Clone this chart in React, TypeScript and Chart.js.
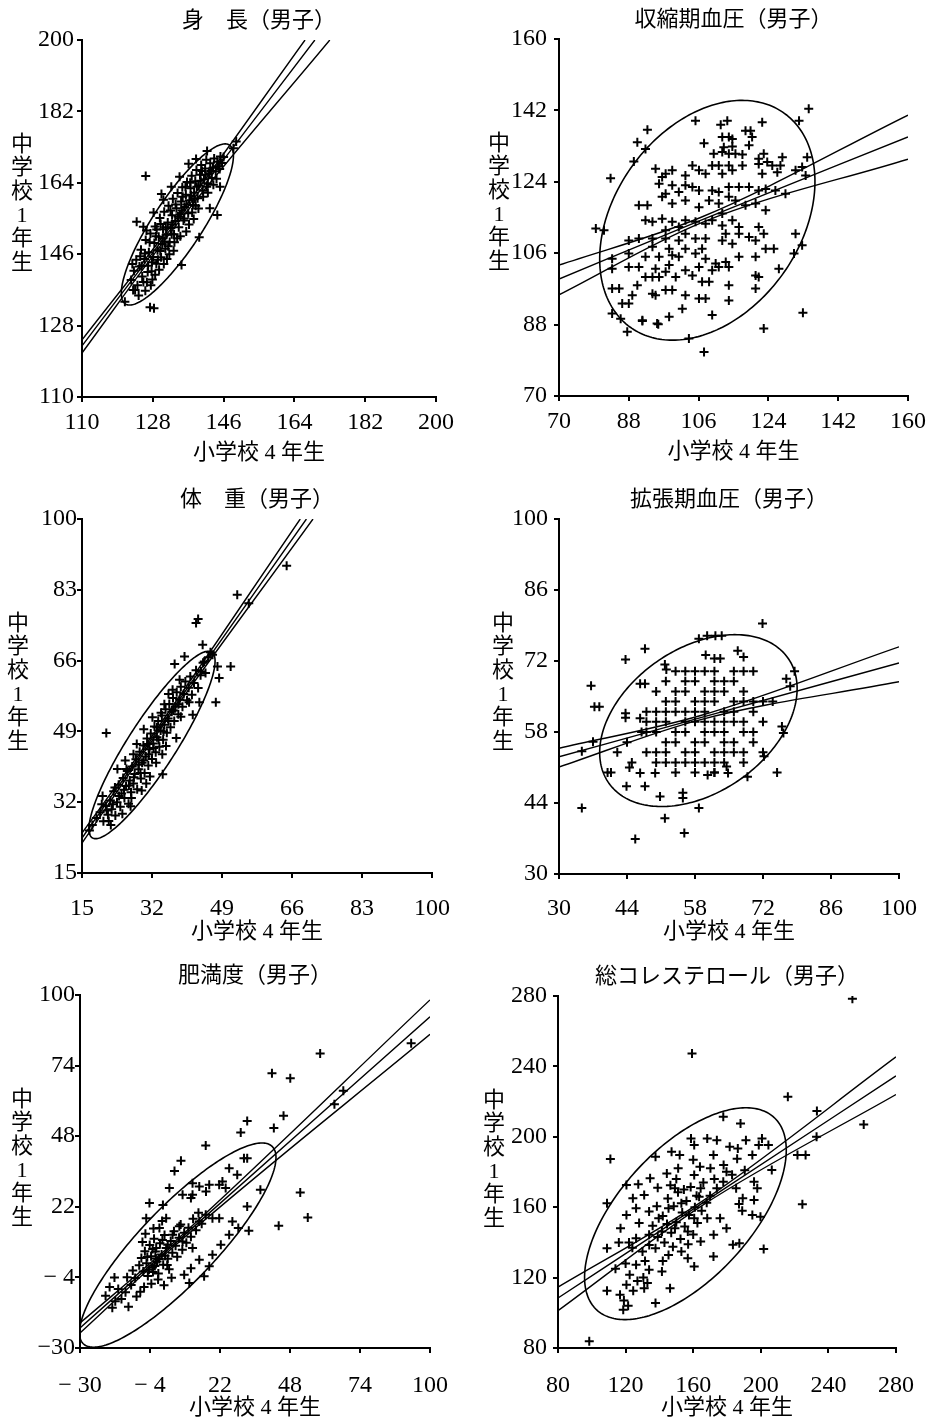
import React, { useEffect, useRef } from "react";
import { Chart, registerables } from "chart.js";
Chart.register(...registerables);

type P = [number, number];

// ---------- shared text ----------
const xAxisLabel = "小学校 4 年生";
const yAxisLabel = "中学校1年生";

// ---------- 身長 ----------
const heightTitle = "身　長（男子）";
const heightTicks = [110, 128, 146, 164, 182, 200];
const heightTickLabels = ["110", "128", "146", "164", "182", "200"];
const heightEllipse = [134.25, 153.5, 24, 6.3, 56.5]; // cx, cy, semi-major, semi-minor, angle(deg)
const heightBandUpper: P[] = [[110, 124.4], [134, 155.0], [166.7, 200]];
const heightBandMid: P[] = [[110, 122.9], [134, 154.2], [169.2, 200]];
const heightBandLower: P[] = [[110, 121.1], [134, 153.4], [173, 200]];
const heightPoints: P[] = [
  [126.2, 165.7], [123.9, 154.2], [125.6, 152.9], [120.9, 134.0], [123.0, 137.0], [127.3, 132.6], [128.3, 132.4],
  [135.3, 143.3], [139.8, 150.3], [144.4, 155.9], [149.2, 174.4], [148.5, 172.7], [130.7, 159.7], [145.1, 163.0], [142.5, 157.6],
  [122.5, 139.5], [123.2, 141.8], [123.8, 144.6], [124.1, 138.2], [124.6, 142.9], [125.0, 147.1], [125.3, 140.4], [125.9, 144.8],
  [126.2, 149.6], [126.5, 138.9], [126.8, 143.1], [127.0, 146.5], [127.4, 151.2], [127.7, 141.7], [128.1, 145.3], [128.4, 148.8],
  [128.6, 153.0], [128.9, 143.6], [129.2, 147.0], [129.5, 150.4], [129.8, 155.1], [130.1, 145.2], [130.4, 148.6], [130.6, 152.3],
  [130.9, 156.7], [131.2, 147.4], [131.5, 150.9], [131.8, 154.0], [132.0, 158.2], [132.3, 149.1], [132.6, 152.6], [132.9, 155.8],
  [133.1, 160.0], [133.4, 151.0], [133.7, 154.4], [134.0, 157.6], [134.3, 161.4], [134.6, 152.8], [134.9, 156.1], [135.2, 159.3],
  [135.5, 162.9], [135.8, 154.5], [136.1, 157.9], [136.4, 161.0], [136.7, 164.2], [137.0, 156.3], [137.3, 159.6], [137.6, 162.6],
  [137.9, 165.8], [138.2, 158.4], [138.5, 161.5], [138.8, 164.4], [139.1, 167.2], [139.4, 160.1], [139.7, 163.3], [140.0, 166.0],
  [140.3, 168.5], [140.7, 162.0], [141.0, 164.9], [141.3, 167.6], [141.6, 169.8], [142.0, 163.8], [142.3, 166.4], [142.6, 168.9],
  [143.0, 165.2], [143.3, 167.8], [143.6, 170.1], [144.0, 166.9], [144.4, 169.3], [144.8, 168.2], [145.2, 170.6], [145.6, 169.0],
  [127.9, 139.6], [126.1, 136.8], [129.6, 142.1], [131.6, 144.8], [124.4, 135.6], [133.3, 146.9], [136.5, 151.7], [138.4, 154.9],
  [139.0, 170.0], [137.1, 168.8], [134.8, 165.5], [132.7, 163.0], [130.2, 161.2], [141.8, 172.0],
  [124.8, 145.5], [125.6, 139.0], [126.7, 141.5], [127.2, 149.0], [127.8, 144.0], [128.6, 140.8], [129.0, 152.2], [129.9, 146.8],
  [130.5, 150.0], [130.8, 143.5], [131.3, 152.8], [131.9, 148.0], [132.5, 157.0], [132.8, 151.0], [133.5, 149.0], [133.8, 158.5],
  [134.4, 155.5], [135.0, 150.5], [135.6, 160.5], [136.0, 155.0], [136.6, 158.5], [137.2, 153.5], [137.5, 164.0], [138.0, 156.5],
  [138.6, 160.0], [139.2, 163.0], [139.6, 157.5], [140.2, 164.5], [140.8, 160.5], [141.4, 166.0], [142.0, 161.5], [142.8, 167.0],
  [143.4, 163.5], [144.2, 165.0], [145.0, 167.5], [146.0, 170.5], [123.5, 137.0], [122.8, 143.5], [126.4, 152.0], [128.2, 156.5],
  [125.2, 143.0], [126.0, 146.2], [127.5, 138.2], [128.8, 150.5], [129.3, 144.6], [130.0, 153.6], [131.0, 149.2], [132.2, 146.0],
  [133.0, 153.5], [134.2, 150.0], [135.4, 157.0], [136.3, 163.0], [137.7, 160.8], [138.9, 158.2], [140.5, 167.0], [141.7, 163.0],
];

// ---------- 収縮期血圧 ----------
const systolicTitle = "収縮期血圧（男子）";
const systolicTicks = [70, 88, 106, 124, 142, 160];
const systolicTickLabels = ["70", "88", "106", "124", "142", "160"];
const systolicEllipse = [108.25, 114.3, 33.5, 23.7, 52.4];
const systolicBandUpper: P[] = [[70, 103.0], [106.5, 115.0], [160, 140.8]];
const systolicBandMid: P[] = [[70, 99.5], [106.5, 114.3], [160, 135.3]];
const systolicBandLower: P[] = [[70, 95.5], [106.5, 113.6], [160, 129.7]];
const systolicPoints: P[] = [
  [134.4, 142.4], [131.9, 139.4], [122.4, 139.0], [105.2, 139.4], [113.4, 139.4], [111.7, 138.4], [92.8, 137.1], [90.2, 134.0],
  [92.3, 132.3], [89.3, 129.1], [83.3, 124.9], [79.5, 112.2], [81.6, 111.8], [122.8, 87.0], [132.9, 91.0], [107.4, 81.1],
  [103.5, 84.5], [87.6, 86.2], [91.5, 88.9], [95.6, 88.1], [132.7, 108.0], [131.0, 110.9], [130.6, 105.9], [126.7, 102.1],
  [112.1, 135.3], [113.8, 135.3], [114.7, 134.8], [118.1, 136.9], [119.4, 136.9], [119.8, 135.3], [107.4, 133.7], [112.5, 132.7],
  [114.7, 132.9], [109.9, 131.1], [112.1, 131.5], [113.8, 131.1], [115.5, 131.1], [117.3, 130.9], [119.0, 133.2], [121.5, 129.8],
  [122.8, 131.1], [123.7, 129.0], [127.6, 130.2], [134.0, 130.2], [104.4, 128.1], [109.5, 128.1], [111.2, 128.1], [113.8, 128.1],
  [117.3, 128.1], [121.5, 128.5], [125.0, 128.1], [127.1, 128.1], [132.7, 127.7], [94.9, 127.3], [96.6, 125.2], [97.5, 126.0],
  [99.2, 126.9], [102.6, 125.6], [106.1, 126.9], [107.8, 126.0], [112.1, 126.0], [114.7, 126.9], [122.4, 126.0], [126.3, 126.4],
  [131.0, 126.9], [133.6, 125.6], [95.8, 123.5], [99.2, 123.1], [102.6, 123.1], [104.4, 122.7], [106.1, 121.8], [109.5, 121.8],
  [111.2, 121.4], [113.8, 122.7], [116.4, 122.7], [119.0, 122.7], [121.5, 121.8], [123.3, 122.2], [125.8, 121.8], [128.4, 121.0],
  [97.5, 121.0], [100.9, 121.4], [96.6, 120.2], [99.2, 118.5], [102.6, 119.3], [106.1, 117.6], [108.7, 119.3], [111.2, 118.5],
  [113.8, 120.2], [115.5, 119.3], [118.1, 118.1], [120.7, 118.5], [123.3, 116.8], [90.6, 118.1], [92.8, 118.1], [112.1, 116.0],
  [92.3, 114.3], [94.1, 113.9], [96.6, 114.7], [99.2, 113.9], [100.9, 112.6], [102.6, 114.3], [105.2, 113.9], [107.8, 113.4],
  [109.5, 114.3], [112.1, 113.0], [114.7, 114.3], [116.4, 112.6], [119.0, 110.1], [121.5, 112.6], [122.8, 110.9], [97.5, 111.8],
  [102.6, 110.9], [113.0, 110.9], [116.4, 110.9], [88.0, 109.2], [90.6, 109.7], [94.1, 109.7], [97.5, 109.7], [100.9, 109.2],
  [105.2, 109.7], [107.8, 109.7], [112.1, 109.2], [114.7, 108.4], [120.7, 109.2], [123.3, 107.1], [125.4, 107.1], [94.1, 107.6],
  [98.4, 107.1], [102.6, 107.1], [106.9, 107.1], [83.7, 104.6], [88.0, 105.9], [92.3, 105.1], [95.8, 105.1], [99.2, 105.5],
  [100.9, 105.1], [105.2, 105.9], [107.8, 104.6], [110.4, 103.4], [113.0, 103.8], [116.4, 105.1], [120.7, 105.1], [98.4, 103.0],
  [83.7, 102.1], [88.0, 102.5], [90.6, 102.5], [94.9, 102.1], [97.5, 101.3], [102.6, 101.7], [106.1, 102.5], [111.2, 102.5],
  [113.8, 102.5], [120.7, 100.4], [121.5, 100.0], [109.5, 101.7], [92.3, 100.0], [94.1, 100.0], [95.8, 100.0], [100.1, 100.0],
  [104.4, 100.4], [106.9, 98.8], [108.7, 98.8], [113.8, 97.9], [120.7, 97.1], [90.2, 97.9], [83.7, 97.1], [85.5, 97.1],
  [88.9, 95.4], [94.1, 95.8], [94.9, 95.4], [97.5, 96.7], [99.2, 96.7], [102.6, 95.4], [106.1, 94.6], [107.8, 94.6],
  [113.8, 94.1], [86.3, 93.3], [88.0, 93.3], [83.7, 90.8], [85.9, 89.5], [91.5, 89.1], [95.3, 88.3], [98.4, 90.0],
  [101.8, 92.0], [109.5, 90.4],
];

// ---------- 体重 ----------
const weightTitle = "体　重（男子）";
const weightTicks = [15, 32, 49, 66, 83, 100];
const weightTickLabels = ["15", "32", "49", "66", "83", "100"];
const weightEllipse = [32, 45.75, 26.6, 5.8, 56.9];
const weightBandUpper: P[] = [[15, 24.6], [32, 47.9], [68, 100]];
const weightBandMid: P[] = [[15, 23.4], [32, 47.3], [69.5, 100]];
const weightBandLower: P[] = [[15, 22.2], [32, 46.7], [71.1, 100]];
const weightPoints: P[] = [
  [20.9, 48.6], [42.7, 75.0], [43.2, 76.0], [52.7, 81.8], [64.7, 88.8], [44.3, 69.8], [47.9, 64.6], [48.3, 61.8],
  [51.1, 64.6], [47.5, 56.0], [43.5, 56.0], [41.9, 53.0], [39.9, 67.0], [37.5, 65.2], [38.7, 61.4], [34.6, 38.7],
  [37.9, 47.4], [43.9, 63.4], [44.7, 65.8], [46.7, 67.4], [55.5, 79.8],
  [18.5, 28.2], [19.4, 29.6], [20.2, 27.4], [20.8, 31.1], [21.3, 29.0], [21.9, 32.4], [22.2, 30.3], [22.7, 34.6],
  [23.1, 28.8], [23.5, 32.0], [23.9, 36.2], [24.3, 30.9], [24.6, 34.1], [25.0, 37.8], [25.3, 33.0], [25.7, 35.9],
  [26.0, 39.5], [26.3, 31.6], [26.6, 37.2], [26.9, 34.4], [27.2, 40.6], [27.5, 36.5], [27.8, 38.8], [28.1, 42.3],
  [28.4, 35.1], [28.7, 39.9], [29.0, 44.1], [29.3, 37.7], [29.6, 41.5], [29.9, 45.6], [30.2, 39.0], [30.5, 43.0],
  [30.8, 47.3], [31.1, 40.8], [31.4, 44.7], [31.7, 48.5], [32.0, 42.4], [32.3, 46.1], [32.6, 50.2], [32.9, 44.0],
  [33.2, 47.6], [33.5, 51.5], [33.8, 45.3], [34.1, 49.2], [34.4, 52.8], [34.7, 47.0], [35.0, 50.6], [35.3, 54.3],
  [35.6, 48.7], [35.9, 52.1], [36.2, 55.6], [36.5, 50.0], [36.8, 53.7], [37.1, 57.0], [37.4, 51.5], [37.7, 55.0],
  [38.0, 58.4], [38.4, 53.1], [38.7, 56.6], [39.0, 59.7], [39.4, 54.9], [39.7, 58.0], [40.1, 61.0], [40.5, 56.5],
  [40.9, 59.5], [41.3, 62.2], [41.7, 57.8], [42.2, 60.6], [42.7, 63.7], [43.2, 59.4], [43.8, 62.5], [44.4, 65.5],
  [45.0, 63.0], [45.7, 66.8], [46.2, 68.0], [22.0, 26.5], [24.8, 29.2], [27.0, 33.0], [29.5, 34.8], [31.5, 38.2],
  [33.0, 41.5], [35.4, 45.5], [28.3, 46.0], [30.0, 49.5], [32.1, 52.4], [34.2, 53.5], [36.0, 58.0], [25.5, 42.0],
  [23.6, 40.0], [20.0, 33.5], [17.5, 26.5], [16.8, 25.2],
  [21.0, 30.0], [22.5, 31.5], [24.0, 33.5], [25.2, 35.0], [26.4, 36.0], [27.6, 38.0], [28.8, 41.0], [30.0, 42.0],
  [31.2, 43.5], [32.4, 45.0], [33.6, 47.0], [34.8, 49.0], [36.0, 51.5], [37.2, 54.0], [38.4, 55.5], [23.0, 35.5],
  [25.8, 40.0], [27.5, 43.5], [29.2, 39.0], [31.0, 46.0], [33.2, 50.0], [35.0, 55.5], [37.0, 59.0], [39.0, 52.5],
  [41.0, 56.0], [21.5, 27.5], [19.8, 31.5], [26.8, 31.0], [30.6, 36.5], [34.5, 43.5],
];

// ---------- 拡張期血圧 ----------
const diastolicTitle = "拡張期血圧（男子）";
const diastolicTicks = [30, 44, 58, 72, 86, 100];
const diastolicTickLabels = ["30", "44", "58", "72", "86", "100"];
const diastolicEllipse = [58.7, 60.25, 22.2, 14.4, 31.9];
const diastolicBandUpper: P[] = [[30, 54.8], [59, 61.2], [100, 74.8]];
const diastolicBandMid: P[] = [[30, 53.1], [59, 60.8], [100, 71.6]];
const diastolicBandLower: P[] = [[30, 51.1], [59, 60.4], [100, 67.9]];
const diastolicPoints: P[] = [
  [71.9, 79.4], [34.7, 43.0], [45.7, 36.9], [51.8, 41.0], [55.8, 38.1], [58.8, 43.0], [74.9, 50.0], [36.6, 67.1],
  [37.3, 63.0], [38.3, 63.0], [43.7, 72.3], [47.7, 74.4], [43.7, 60.8], [43.7, 61.7], [46.7, 60.7], [46.7, 67.5],
  [47.7, 67.5], [51.8, 71.3], [52.1, 70.3], [34.7, 54.2], [37.0, 56.1], [40.0, 50.0], [40.7, 50.0], [43.9, 47.3],
  [47.7, 47.3], [46.7, 49.9], [49.8, 49.9], [50.8, 45.3], [55.5, 46.0], [55.5, 45.0], [77.6, 67.0], [75.9, 59.1],
  [76.2, 57.8], [72.2, 53.2], [68.8, 49.2], [64.8, 49.9], [64.5, 51.2], [62.0, 50.0], [60.6, 49.5], [74.0, 64.0],
  [78.5, 70.0], [76.8, 68.5], [60.5, 77.0], [62.2, 77.0], [63.5, 77.0], [58.8, 76.4], [60.2, 73.2], [62.0, 72.5],
  [63.2, 72.5], [66.8, 74.0], [68.0, 72.8], [42.0, 54.0], [44.0, 56.0], [45.0, 52.0], [47.0, 58.0], [44.5, 51.0],
  [48, 54], [48, 58], [48, 60], [48, 62],
  [50, 52], [50, 54], [50, 58], [50, 60], [50, 62], [50, 66],
  [52, 52], [52, 54], [52, 56], [52, 60], [52, 62], [52, 64], [52, 68],
  [54, 50], [54, 52], [54, 56], [54, 58], [54, 62], [54, 64], [54, 66], [54, 70],
  [56, 52], [56, 54], [56, 58], [56, 60], [56, 62], [56, 66], [56, 68], [56, 70],
  [58, 50], [58, 52], [58, 54], [58, 56], [58, 60], [58, 62], [58, 64], [58, 68], [58, 70],
  [60, 52], [60, 56], [60, 58], [60, 60], [60, 62], [60, 64], [60, 66], [60, 70],
  [62, 50], [62, 52], [62, 54], [62, 58], [62, 60], [62, 64], [62, 66], [62, 68], [62, 70],
  [64, 52], [64, 54], [64, 56], [64, 58], [64, 60], [64, 62], [64, 66], [64, 68],
  [66, 54], [66, 56], [66, 60], [66, 62], [66, 64], [66, 68], [66, 70],
  [68, 52], [68, 54], [68, 58], [68, 60], [68, 64], [68, 66], [68, 70],
  [70, 56], [70, 58], [70, 62], [70, 64], [70, 70],
  [72, 54], [72, 60], [72, 64],
];

// ---------- 肥満度 ----------
const obesityTitle = "肥満度（男子）";
const obesityTicks = [-30, -4, 22, 48, 74, 100];
const obesityXTickLabels = ["− 30", "− 4", "22", "48", "74", "100"];
const obesityYTickLabels = ["−30", "− 4", "22", "48", "74", "100"];
const obesityEllipse = [6.3, 7.9, 50.5, 14.0, 46];
const obesityBandUpper: P[] = [[-30, -20.8], [5, 9.0], [100, 98.2]];
const obesityBandMid: P[] = [[-30, -22.6], [5, 8.25], [100, 92.0]];
const obesityBandLower: P[] = [[-30, -24.5], [5, 7.5], [100, 85.5]];
const obesityPoints: P[] = [
  [59.2, 78.5], [41.3, 71.2], [48.1, 69.3], [45.6, 55.5], [42.0, 51.0], [32.1, 53.6], [29.7, 49.4], [16.7, 44.6],
  [7.5, 39.0], [5.1, 35.2], [51.8, 27.3], [54.6, 18.1], [43.8, 15.0], [67.8, 64.7], [64.5, 59.8], [93.0, 82.2],
  [32.1, 39.9], [30.9, 39.9], [28.4, 33.8], [37.0, 28.3], [32.1, 22.1], [32.7, 13.2], [28.8, 14.2], [21.7, 30.1],
  [22.9, 31.3], [18.0, 30.1], [16.8, 27.6], [11.8, 30.7], [3.2, 28.9], [-4.2, 23.4], [-5.4, 17.8], [0.8, 22.7],
  [8.1, 26.4], [11.8, 26.4], [25.4, 36.2], [24.1, 28.9], [14.3, 29.5], [11.2, 25.2], [16.7, 19.1], [19.2, 17.8],
  [14.3, 16.6], [21.7, 17.8], [26.6, 16.6], [25.4, 11.7], [22.3, 8.0], [19.2, 4.3], [18.0, 0.1], [14.3, 2.5],
  [11.2, -0.6], [8.7, -3.0], [16.1, -3.6], [10.6, -6.1], [11.8, 6.8], [8.1, 9.2], [4.4, 11.7], [2.6, 8.0],
  [-1.7, 6.8], [6.9, 14.8], [2.0, 17.8], [-0.5, 14.2],
  [-8.0, 0.5], [-7.2, 3.1], [-6.5, -1.8], [-5.9, 5.6], [-5.3, 1.2], [-4.8, -3.5], [-4.1, 7.9], [-3.6, 3.8],
  [-3.1, -0.4], [-2.5, 10.2], [-2.0, 5.5], [-1.4, 1.9], [-0.9, -2.6], [-0.3, 8.6], [0.3, 4.4], [0.9, 0.7],
  [1.4, 11.6], [2.0, 6.8], [2.6, 2.9], [3.1, -1.0], [3.7, 9.4], [4.3, 5.1], [4.9, 13.0], [5.5, 7.7],
  [6.1, 3.6], [6.8, 10.6], [7.4, 15.5], [8.0, 6.2], [8.7, 12.4], [9.5, 8.8], [10.3, 14.3], [11.2, 11.0],
  [12.0, 17.6], [13.1, 13.4], [14.0, 19.8], [15.2, 15.8], [-9.5, -4.2], [-10.4, -1.5], [-11.0, -6.8], [-12.5, -3.9],
  [-13.1, -9.5], [-14.6, -12.0], [-15.8, -8.3], [-16.9, -12.8], [-18.0, -15.2], [-12.0, -14.8], [-9.0, -11.0], [-6.2, -7.5],
  [-3.5, -6.3], [-1.0, -4.8], [-7.6, -9.3], [-19.0, -7.5], [-17.2, -4.0], [-20.5, -10.8], [-2.7, 14.0], [0.5, 16.8],
  [-5.7, 12.1], [1.2, -6.9], [4.0, -4.1], [-6.8, 9.0], [-1.8, 3.0], [1.6, 4.0], [-4.4, -1.2], [-2.2, 0.2],
  [-3.0, 6.5], [-0.6, 2.8], [0.6, 9.8], [-5.0, 3.5], [-2.9, -2.0], [2.4, 0.6],
];

// ---------- 総コレステロール ----------
const cholesterolTitle = "総コレステロール（男子）";
const cholesterolTicks = [80, 120, 160, 200, 240, 280];
const cholesterolTickLabels = ["80", "120", "160", "200", "240", "280"];
const cholesterolEllipse = [155.4, 156.3, 75.8, 37.9, 45.4];
const cholesterolBandUpper: P[] = [[80, 114.6], [165, 163.2], [280, 245.4]];
const cholesterolBandMid: P[] = [[80, 108.4], [165, 162.0], [280, 234.6]];
const cholesterolBandLower: P[] = [[80, 101.2], [165, 160.8], [280, 224.0]];
const cholesterolPoints: P[] = [
  [254.2, 278.5], [159.3, 247.3], [216.0, 222.7], [233.2, 214.6], [260.9, 207.0], [233.0, 200.0], [221.7, 189.6], [226.5, 189.6],
  [224.6, 161.7], [201.7, 136.3], [98.5, 83.8], [111.0, 187.4], [109.0, 162.2], [109.0, 136.7], [109.0, 112.5], [120.5, 172.6],
  [137.7, 105.5], [118.6, 101.7], [160.6, 126.3], [172.0, 132.0], [183.5, 138.6], [187.3, 139.5], [172.0, 189.6], [177.8, 211.4],
  [188.0, 207.6], [200.7, 199.1], [204.5, 195.3], [198.8, 195.3], [206.5, 181.1], [196.0, 174.5], [197.9, 170.7], [196.0, 164.1],
  [189.0, 158.0], [187.1, 161.8], [195.0, 155.6], [199.8, 154.6],
  [158.7, 199.1], [160.6, 195.3], [168.3, 199.1], [174.0, 198.1], [181.6, 194.4], [186.4, 193.4], [191.2, 198.1], [195.0, 189.6],
  [152.0, 189.6], [147.2, 191.5], [137.7, 188.7], [144.4, 179.2], [149.2, 170.7], [151.1, 182.1], [160.6, 178.3], [164.4, 170.7],
  [170.2, 182.1], [174.0, 170.7], [177.8, 174.5], [179.7, 180.2], [185.4, 170.7], [189.3, 165.1], [131.0, 167.0], [124.3, 165.1],
  [120.5, 155.6], [126.2, 159.4], [133.9, 157.5], [139.6, 153.7], [145.4, 159.4], [153.0, 162.2], [160.6, 153.7], [168.3, 153.7],
  [175.9, 153.7], [179.7, 148.0], [172.1, 144.3], [164.4, 140.5], [156.8, 146.2], [149.2, 148.0], [141.5, 146.2], [133.9, 144.3],
  [126.2, 142.4], [130.0, 134.8], [137.7, 136.7], [145.4, 132.9], [153.0, 134.8], [156.8, 131.0], [141.5, 123.5], [133.9, 124.4],
  [126.2, 127.3], [122.4, 121.6], [120.5, 115.9], [131.0, 114.0], [132.9, 116.9], [146.3, 114.0], [116.7, 110.2],
  [145.0, 165.0], [148.5, 160.5], [151.0, 168.5], [153.5, 157.0], [156.0, 163.5], [158.5, 171.5], [161.0, 160.0], [163.5, 166.0],
  [166.0, 174.0], [168.0, 162.5], [142.0, 155.0], [144.5, 150.5], [147.0, 145.5], [150.0, 151.5], [152.5, 142.0], [155.0, 149.0],
  [157.5, 155.5], [160.0, 144.5], [162.5, 151.0], [165.0, 158.0], [170.0, 166.5], [172.5, 176.0], [138.5, 160.5], [136.0, 149.5],
  [134.0, 138.5], [139.0, 143.0], [128.0, 151.0], [131.5, 129.5], [124.0, 137.0], [120.0, 128.0], [122.0, 140.0], [127.0, 118.0],
  [119.0, 107.0], [121.5, 104.0], [130.5, 120.0], [142.0, 129.5], [148.0, 137.5], [160.0, 187.0], [164.0, 183.0], [178.0, 184.0],
  [183.0, 178.5], [190.5, 181.0], [186.0, 187.5], [150.0, 176.0], [139.0, 171.0], [134.5, 176.5], [127.5, 173.0], [117.0, 148.0],
  [116.0, 140.0], [114.0, 125.0], [124.5, 112.5], [154.5, 170.0], [146.5, 172.5], [157.0, 139.0], [143.0, 140.0], [162.0, 166.5],
];

// ---------- assemble ----------
type Spec = {
  title: string; points: P[]; ellipse: number[]; bands: P[][];
  ticks: number[]; xLabels: string[]; yLabels: string[];
};
type Lay = {
  ox: number; oy: number; ch: number; l: number; t: number; r: number; b: number;
  xPad: number; yPad: number; xLabelDy: number; yLabelDx: number;
};

const specs: Spec[] = [
  { title: heightTitle, points: heightPoints, ellipse: heightEllipse, bands: [heightBandUpper, heightBandMid, heightBandLower], ticks: heightTicks, xLabels: heightTickLabels, yLabels: heightTickLabels },
  { title: systolicTitle, points: systolicPoints, ellipse: systolicEllipse, bands: [systolicBandUpper, systolicBandMid, systolicBandLower], ticks: systolicTicks, xLabels: systolicTickLabels, yLabels: systolicTickLabels },
  { title: weightTitle, points: weightPoints, ellipse: weightEllipse, bands: [weightBandUpper, weightBandMid, weightBandLower], ticks: weightTicks, xLabels: weightTickLabels, yLabels: weightTickLabels },
  { title: diastolicTitle, points: diastolicPoints, ellipse: diastolicEllipse, bands: [diastolicBandUpper, diastolicBandMid, diastolicBandLower], ticks: diastolicTicks, xLabels: diastolicTickLabels, yLabels: diastolicTickLabels },
  { title: obesityTitle, points: obesityPoints, ellipse: obesityEllipse, bands: [obesityBandUpper, obesityBandMid, obesityBandLower], ticks: obesityTicks, xLabels: obesityXTickLabels, yLabels: obesityYTickLabels },
  { title: cholesterolTitle, points: cholesterolPoints, ellipse: cholesterolEllipse, bands: [cholesterolBandUpper, cholesterolBandMid, cholesterolBandLower], ticks: cholesterolTicks, xLabels: cholesterolTickLabels, yLabels: cholesterolTickLabels },
];

const layouts: Lay[] = [
  { ox: 0, oy: 0, ch: 478, l: 82, t: 40, r: 436, b: 397, xPad: 6, yPad: 3, xLabelDy: 56, yLabelDx: 60 },
  { ox: 466, oy: 0, ch: 478, l: 559, t: 39, r: 909, b: 396, xPad: 6, yPad: 7, xLabelDy: 56, yLabelDx: 60 },
  { ox: 0, oy: 478, ch: 478, l: 82, t: 519, r: 435, b: 873, xPad: 16, yPad: 0, xLabelDy: 59, yLabelDx: 64 },
  { ox: 466, oy: 478, ch: 478, l: 559, t: 519, r: 908, b: 874, xPad: 15, yPad: 6, xLabelDy: 58, yLabelDx: 56 },
  { ox: 0, oy: 956, ch: 470, l: 80, t: 995, r: 432, b: 1348, xPad: 18, yPad: 0, xLabelDy: 60, yLabelDx: 58 },
  { ox: 466, oy: 956, ch: 470, l: 558, t: 996, r: 907, b: 1348, xPad: 18, yPad: 6, xLabelDy: 60, yLabelDx: 64 },
];

const W = 466;
const tickFont = { family: '"Liberation Serif", serif', size: 24 };
const textFont = '22px "Liberation Serif", "Noto Sans CJK JP"';

function Panel({ spec, lay }: { spec: Spec; lay: Lay }) {
  const ref = useRef<HTMLCanvasElement>(null);
  useEffect(() => {
    const canvas = ref.current!;
    const H = lay.ch;
    const left = lay.l - lay.ox;
    const top = lay.t - lay.oy;
    const right = lay.r - lay.ox;
    const bottom = lay.b - lay.oy;
    const lo = spec.ticks[0];
    const hi = spec.ticks[spec.ticks.length - 1];

    const decor = {
      id: "decor",
      afterDatasetsDraw(chart: any) {
        const { ctx, chartArea: a, scales } = chart;
        const [cx, cy, ea, eb, deg] = spec.ellipse;
        const th = (deg * Math.PI) / 180;
        const c = Math.cos(th), s = Math.sin(th);
        ctx.save();
        ctx.beginPath();
        ctx.rect(a.left, a.top, a.right - a.left, a.bottom - a.top);
        ctx.clip();
        ctx.beginPath();
        const n = 240;
        for (let i = 0; i <= n; i++) {
          const t = (i / n) * Math.PI * 2;
          const dx = ea * Math.cos(t), dy = eb * Math.sin(t);
          const px = scales.x.getPixelForValue(cx + dx * c - dy * s);
          const py = scales.y.getPixelForValue(cy + dx * s + dy * c);
          if (i === 0) ctx.moveTo(px, py);
          else ctx.lineTo(px, py);
        }
        ctx.closePath();
        ctx.strokeStyle = "#000";
        ctx.lineWidth = 1.6;
        ctx.stroke();
        ctx.restore();
      },
      afterDraw(chart: any) {
        const { ctx, chartArea: a } = chart;
        ctx.save();
        ctx.fillStyle = "#000";
        ctx.textAlign = "center";
        ctx.textBaseline = "middle";
        ctx.font = textFont;
        const mx = (a.left + a.right) / 2;
        ctx.fillText(spec.title, mx, a.top - 19);
        ctx.fillText(xAxisLabel, mx, a.bottom + lay.xLabelDy);
        Array.from(yAxisLabel).forEach((ch, i) => {
          ctx.fillText(ch, a.left - lay.yLabelDx, a.top + 105 + i * 23.6);
        });
        ctx.restore();
      },
    };

    const axisCommon = (labels: string[], pad: number) => ({
      type: "linear" as const,
      min: lo,
      max: hi,
      afterBuildTicks: (sc: any) => {
        sc.ticks = spec.ticks.map((v) => ({ value: v }));
      },
      ticks: {
        callback: (_v: any, i: number) => labels[i],
        font: tickFont,
        color: "#000",
        padding: pad,
        maxRotation: 0,
        autoSkip: false,
      },
      grid: { display: true, drawOnChartArea: false, drawTicks: true, tickLength: 5, color: "#000", lineWidth: 2 },
      border: { display: true, color: "#000", width: 2 },
    });

    const chart = new Chart(canvas, {
      type: "scatter",
      data: {
        datasets: [
          {
            data: spec.points.map(([x, y]) => ({ x, y })),
            pointStyle: "cross",
            pointRadius: 4.5,
            borderColor: "#000",
            backgroundColor: "#000",
            borderWidth: 2,
            showLine: false,
          },
          ...spec.bands.map((band) => ({
            data: band.map(([x, y]) => ({ x, y })),
            showLine: true,
            pointRadius: 0,
            borderColor: "#000",
            borderWidth: 1.4,
            cubicInterpolationMode: "monotone" as const,
            fill: false,
          })),
        ],
      },
      options: {
        responsive: false,
        animation: false,
        devicePixelRatio: 1,
        events: [],
        layout: { padding: { left: 0, top, right: W - right, bottom: 0 }, autoPadding: false },
        plugins: { legend: { display: false }, tooltip: { enabled: false }, title: { display: false } },
        scales: {
          x: {
            ...axisCommon(spec.xLabels, lay.xPad),
            position: "bottom",
            afterFit: (sc: any) => {
              sc.height = H - bottom;
            },
          },
          y: {
            ...axisCommon(spec.yLabels, lay.yPad),
            position: "left",
            afterFit: (sc: any) => {
              sc.width = left;
            },
          },
        },
      } as any,
      plugins: [decor],
    });
    return () => chart.destroy();
  }, []);
  return (
    <canvas
      ref={ref}
      width={W}
      height={lay.ch}
      style={{ position: "absolute", left: lay.ox, top: lay.oy, width: W, height: lay.ch }}
    />
  );
}

export default function App() {
  return (
    <div style={{ position: "absolute", left: 0, top: 0, width: 932, height: 1426, background: "#fff", overflow: "hidden" }}>
      {specs.map((s, i) => (
        <Panel key={i} spec={s} lay={layouts[i]} />
      ))}
    </div>
  );
}
